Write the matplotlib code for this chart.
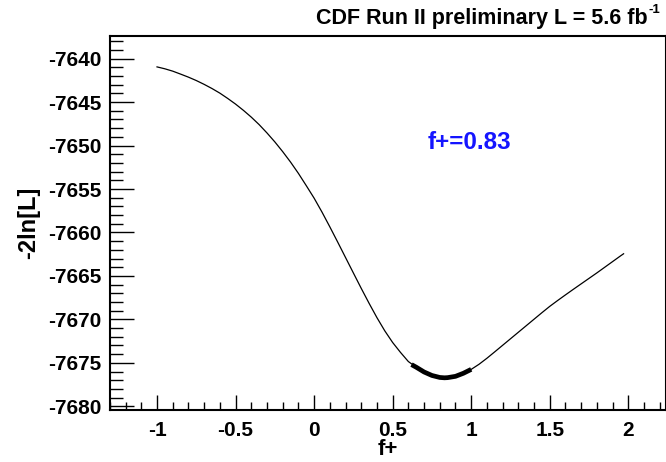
import matplotlib
matplotlib.use('Agg')
import matplotlib.pyplot as plt
from matplotlib.ticker import MultipleLocator

plt.rcParams['font.family'] = ['Liberation Sans', 'DejaVu Sans']
plt.rcParams['font.weight'] = 'bold'
plt.rcParams['axes.unicode_minus'] = False

# likelihood scan, -2ln[L] vs f+
fplus = [-1.0, -0.95, -0.9, -0.85, -0.8, -0.75, -0.7, -0.65, -0.6, -0.55,
         -0.5, -0.45, -0.4, -0.35, -0.3, -0.25, -0.2, -0.15, -0.1, -0.05,
         0.0, 0.05, 0.1, 0.15, 0.2, 0.25, 0.3, 0.35, 0.4, 0.45,
         0.5, 0.55, 0.6, 0.65, 0.7, 0.75, 0.8, 0.83, 0.85, 0.9,
         0.95, 1.0, 1.05, 1.1, 1.15, 1.2, 1.25, 1.3, 1.35, 1.4,
         1.45, 1.5, 1.55, 1.6, 1.65, 1.7, 1.75, 1.8, 1.85, 1.9,
         1.95, 1.97]
nll = [-7640.95, -7641.17, -7641.44, -7641.78, -7642.13, -7642.52, -7642.96, -7643.44, -7643.97, -7644.58,
       -7645.23, -7645.95, -7646.73, -7647.59, -7648.55, -7649.58, -7650.70, -7651.90, -7653.20, -7654.61,
       -7656.05, -7657.65, -7659.35, -7661.10, -7662.88, -7664.66, -7666.43, -7668.15, -7669.80, -7671.32,
       -7672.66, -7673.80, -7674.85, -7675.50, -7676.05, -7676.45, -7676.68, -7676.72, -7676.70, -7676.55,
       -7676.20, -7675.75, -7675.16, -7674.47, -7673.73, -7672.98, -7672.23, -7671.48, -7670.73, -7669.98,
       -7669.23, -7668.50, -7667.83, -7667.18, -7666.54, -7665.91, -7665.28, -7664.65, -7664.00, -7663.35,
       -7662.70, -7662.45]

# 1 sigma region around the minimum (drawn thick)
fplus_1s = [0.62, 0.65, 0.7, 0.75, 0.8, 0.83, 0.85, 0.9, 0.95, 1.0]
nll_1s = [-7675.2, -7675.5, -7676.05, -7676.45, -7676.68, -7676.72, -7676.70, -7676.55, -7676.2, -7675.75]

best_fit = 0.83

fig = plt.figure(figsize=(6.66, 4.62), dpi=100)
ax = fig.add_axes([0.165, 0.113, 0.835, 0.809])

ax.plot(fplus, nll, color='black', lw=0.9)
ax.plot(fplus_1s, nll_1s, color='black', lw=3.4, solid_capstyle='butt')

ax.set_xlim(-1.3, 2.24)
ax.set_ylim(-7680.4, -7637.4)

ax.xaxis.set_major_locator(MultipleLocator(0.5))
ax.xaxis.set_minor_locator(MultipleLocator(0.1))
ax.yaxis.set_major_locator(MultipleLocator(5))
ax.yaxis.set_minor_locator(MultipleLocator(1))
ax.xaxis.set_major_formatter(plt.FuncFormatter(lambda v, p: '%g' % v))

ax.tick_params(axis='x', which='major', direction='in', length=11, width=1, labelsize=15, pad=8)
ax.tick_params(axis='x', which='minor', direction='in', length=5.5, width=1)
ax.tick_params(axis='y', which='major', direction='in', length=17, width=1, labelsize=15, pad=6)
ax.tick_params(axis='y', which='minor', direction='in', length=9, width=1)
for lab in ax.get_xticklabels() + ax.get_yticklabels():
    lab.set_fontweight('bold')

for s in ax.spines.values():
    s.set_linewidth(1.5)

ax.set_xlabel('f+', fontsize=16, fontweight='bold', labelpad=-1)
ax.set_ylabel('-2ln[L]', fontsize=17, fontweight='bold', labelpad=6)

ax.text(0.99, -7649.7, 'f+=%.2f' % best_fit, color='#1515ff', fontsize=17.5,
        fontweight='bold', ha='center', va='center')

fig.text(0.973, 0.96, 'CDF Run II preliminary L = 5.6 fb', ha='right',
         va='center', fontsize=15.5, fontweight='bold')
fig.text(0.974, 0.978, '-1', ha='left', va='center', fontsize=9.5, fontweight='bold')

fig.savefig('out.png', dpi=100)
